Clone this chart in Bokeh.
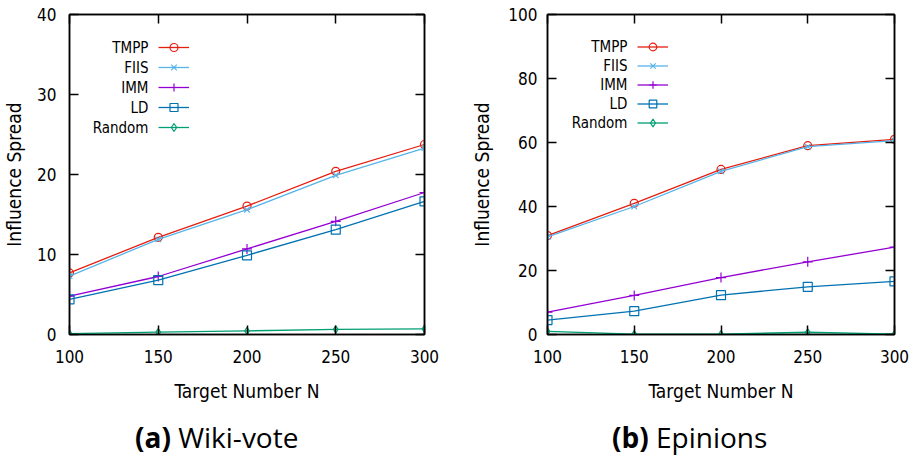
from bokeh.plotting import figure
from bokeh.models import LinearAxis, Range1d, FixedTicker, Legend, LegendItem, Label, Div
from bokeh.layouts import row, column
from bokeh.embed import file_html
from bokeh.resources import INLINE

# ---------------- data ----------------
target_n = [100, 150, 200, 250, 300]
series_names = ["TMPP", "FIIS", "IMM", "LD", "Random"]

wiki_tmpp = [7.7, 12.15, 16.05, 20.4, 23.75]
wiki_fiis = [7.3, 11.9, 15.6, 19.9, 23.3]
wiki_imm = [4.8, 7.25, 10.7, 14.15, 17.75]
wiki_ld = [4.4, 6.8, 9.9, 13.1, 16.65]
wiki_random = [0.1, 0.3, 0.45, 0.65, 0.7]

ep_tmpp = [30.9, 41.0, 51.6, 59.0, 61.0]
ep_fiis = [30.5, 40.0, 51.0, 58.7, 60.6]
ep_imm = [7.0, 12.2, 17.8, 22.7, 27.3]
ep_ld = [4.5, 7.3, 12.3, 14.9, 16.6]
ep_random = [1.0, 0.1, 0.1, 0.7, 0.1]

x_ticks = [100, 150, 200, 250, 300]
wiki_y_ticks = [0, 10, 20, 30, 40]
ep_y_ticks = [0, 20, 40, 60, 80, 100]

# ---------------- styles ----------------
FONT = "DejaVu Sans Condensed"
TITLE_FONT = "Open Sans"
colors = ["#e51e10", "#56b4e9", "#9400d3", "#0072b2", "#009e73"]
markers = ["circle", "x", "cross", "square", "diamond"]
msizes = [8, 8, 10, 9, 7]

FIG_W = 460
FIG_H = 410
FRAME_H = 320
TOP_B = 14
DIV_H = 46


def style_axis(ax, ticks, labels=True):
    ax.ticker = FixedTicker(ticks=ticks)
    ax.major_tick_in = 9
    ax.major_tick_out = 0
    ax.minor_tick_line_color = None
    ax.major_tick_line_color = "black"
    ax.major_tick_line_width = 1.5
    ax.axis_line_color = "black"
    ax.axis_line_width = 1.5
    if labels:
        ax.major_label_text_font = FONT
        ax.major_label_text_font_size = "17px"
        ax.major_label_text_color = "black"
        ax.axis_label_text_font = FONT
        ax.axis_label_text_font_size = "19px"
        ax.axis_label_text_font_style = "normal"
        ax.axis_label_text_color = "black"
    else:
        ax.major_label_text_color = None
        ax.major_label_text_font_size = "1px"
        ax.major_label_standoff = 0


def make_panel(series, ymax, yticks, border_left, border_right,
               ytick_standoff, ylab_standoff, leg_x, leg_top, row_h, txt_x):
    p = figure(width=FIG_W, height=FIG_H, x_range=Range1d(100, 300),
               y_range=Range1d(0, ymax), output_backend="svg",
               toolbar_location=None, min_border_top=TOP_B,
               min_border_left=border_left, min_border_right=border_right,
               min_border_bottom=FIG_H - FRAME_H - TOP_B)
    p.grid.visible = False
    p.outline_line_color = "black"
    p.outline_line_width = 1.5
    p.background_fill_color = "white"
    p.border_fill_color = "white"

    style_axis(p.xaxis[0], x_ticks)
    p.xaxis[0].major_label_standoff = 15
    p.xaxis[0].axis_label = "Target Number N"
    p.xaxis[0].axis_label_standoff = 14
    style_axis(p.yaxis[0], yticks)
    p.yaxis[0].major_label_standoff = ytick_standoff
    p.yaxis[0].axis_label = "Influence Spread"
    p.yaxis[0].axis_label_standoff = ylab_standoff

    top = LinearAxis()
    style_axis(top, x_ticks, labels=False)
    p.add_layout(top, "above")
    right = LinearAxis()
    style_axis(right, yticks, labels=False)
    p.add_layout(right, "right")

    items = []
    for vals, c, m, s in zip(series, colors, markers, msizes):
        lr = p.line(target_n, vals, line_color=c, line_width=1.3)
        sr = p.scatter(target_n, vals, marker=m, size=s, line_color=c,
                       fill_color=None, line_width=1.2)
        items.append(LegendItem(label=" ", renderers=[lr, sr]))

    n = len(series_names)
    leg = Legend(items=items, location=(leg_x, FRAME_H - leg_top - n * row_h),
                 glyph_width=31, glyph_height=row_h, label_height=row_h,
                 label_width=0, label_standoff=0, spacing=0, padding=0,
                 margin=0, label_text_font_size="12px",
                 border_line_color=None, background_fill_alpha=0)
    p.add_layout(leg)

    for i, name in enumerate(series_names):
        yc = FRAME_H - leg_top - row_h * (i + 0.5)
        p.add_layout(Label(x=txt_x, y=yc, x_units="screen", y_units="screen",
                           text=name, text_align="right", text_baseline="middle",
                           text_font=FONT, text_font_size="15px",
                           text_color="black"))
    return p


def caption(bold, rest, pad_left):
    html = ('<div style="margin:0;padding:13px 0 0 %dpx;font-family:\'Open Sans\';'
            'font-size:28px;line-height:28px;white-space:nowrap;color:#000;">'
            '<b>%s</b> %s</div>' % (pad_left, bold, rest))
    return Div(text=html, width=FIG_W, height=DIV_H, margin=0)


p1 = make_panel([wiki_tmpp, wiki_fiis, wiki_imm, wiki_ld, wiki_random], 40,
                wiki_y_ticks, 68, 36, 13, 9, 89, 23.3, 20, 79)
p2 = make_panel([ep_tmpp, ep_fiis, ep_imm, ep_ld, ep_random], 100,
                ep_y_ticks, 87, 26, 10, 12, 90, 22.5, 19, 80)

layout = row(column(p1, caption("(a)", "Wiki-vote", 135)),
             column(p2, caption("(b)", "Epinions", 152)))
open("out.html", "w").write(file_html(layout, INLINE))
